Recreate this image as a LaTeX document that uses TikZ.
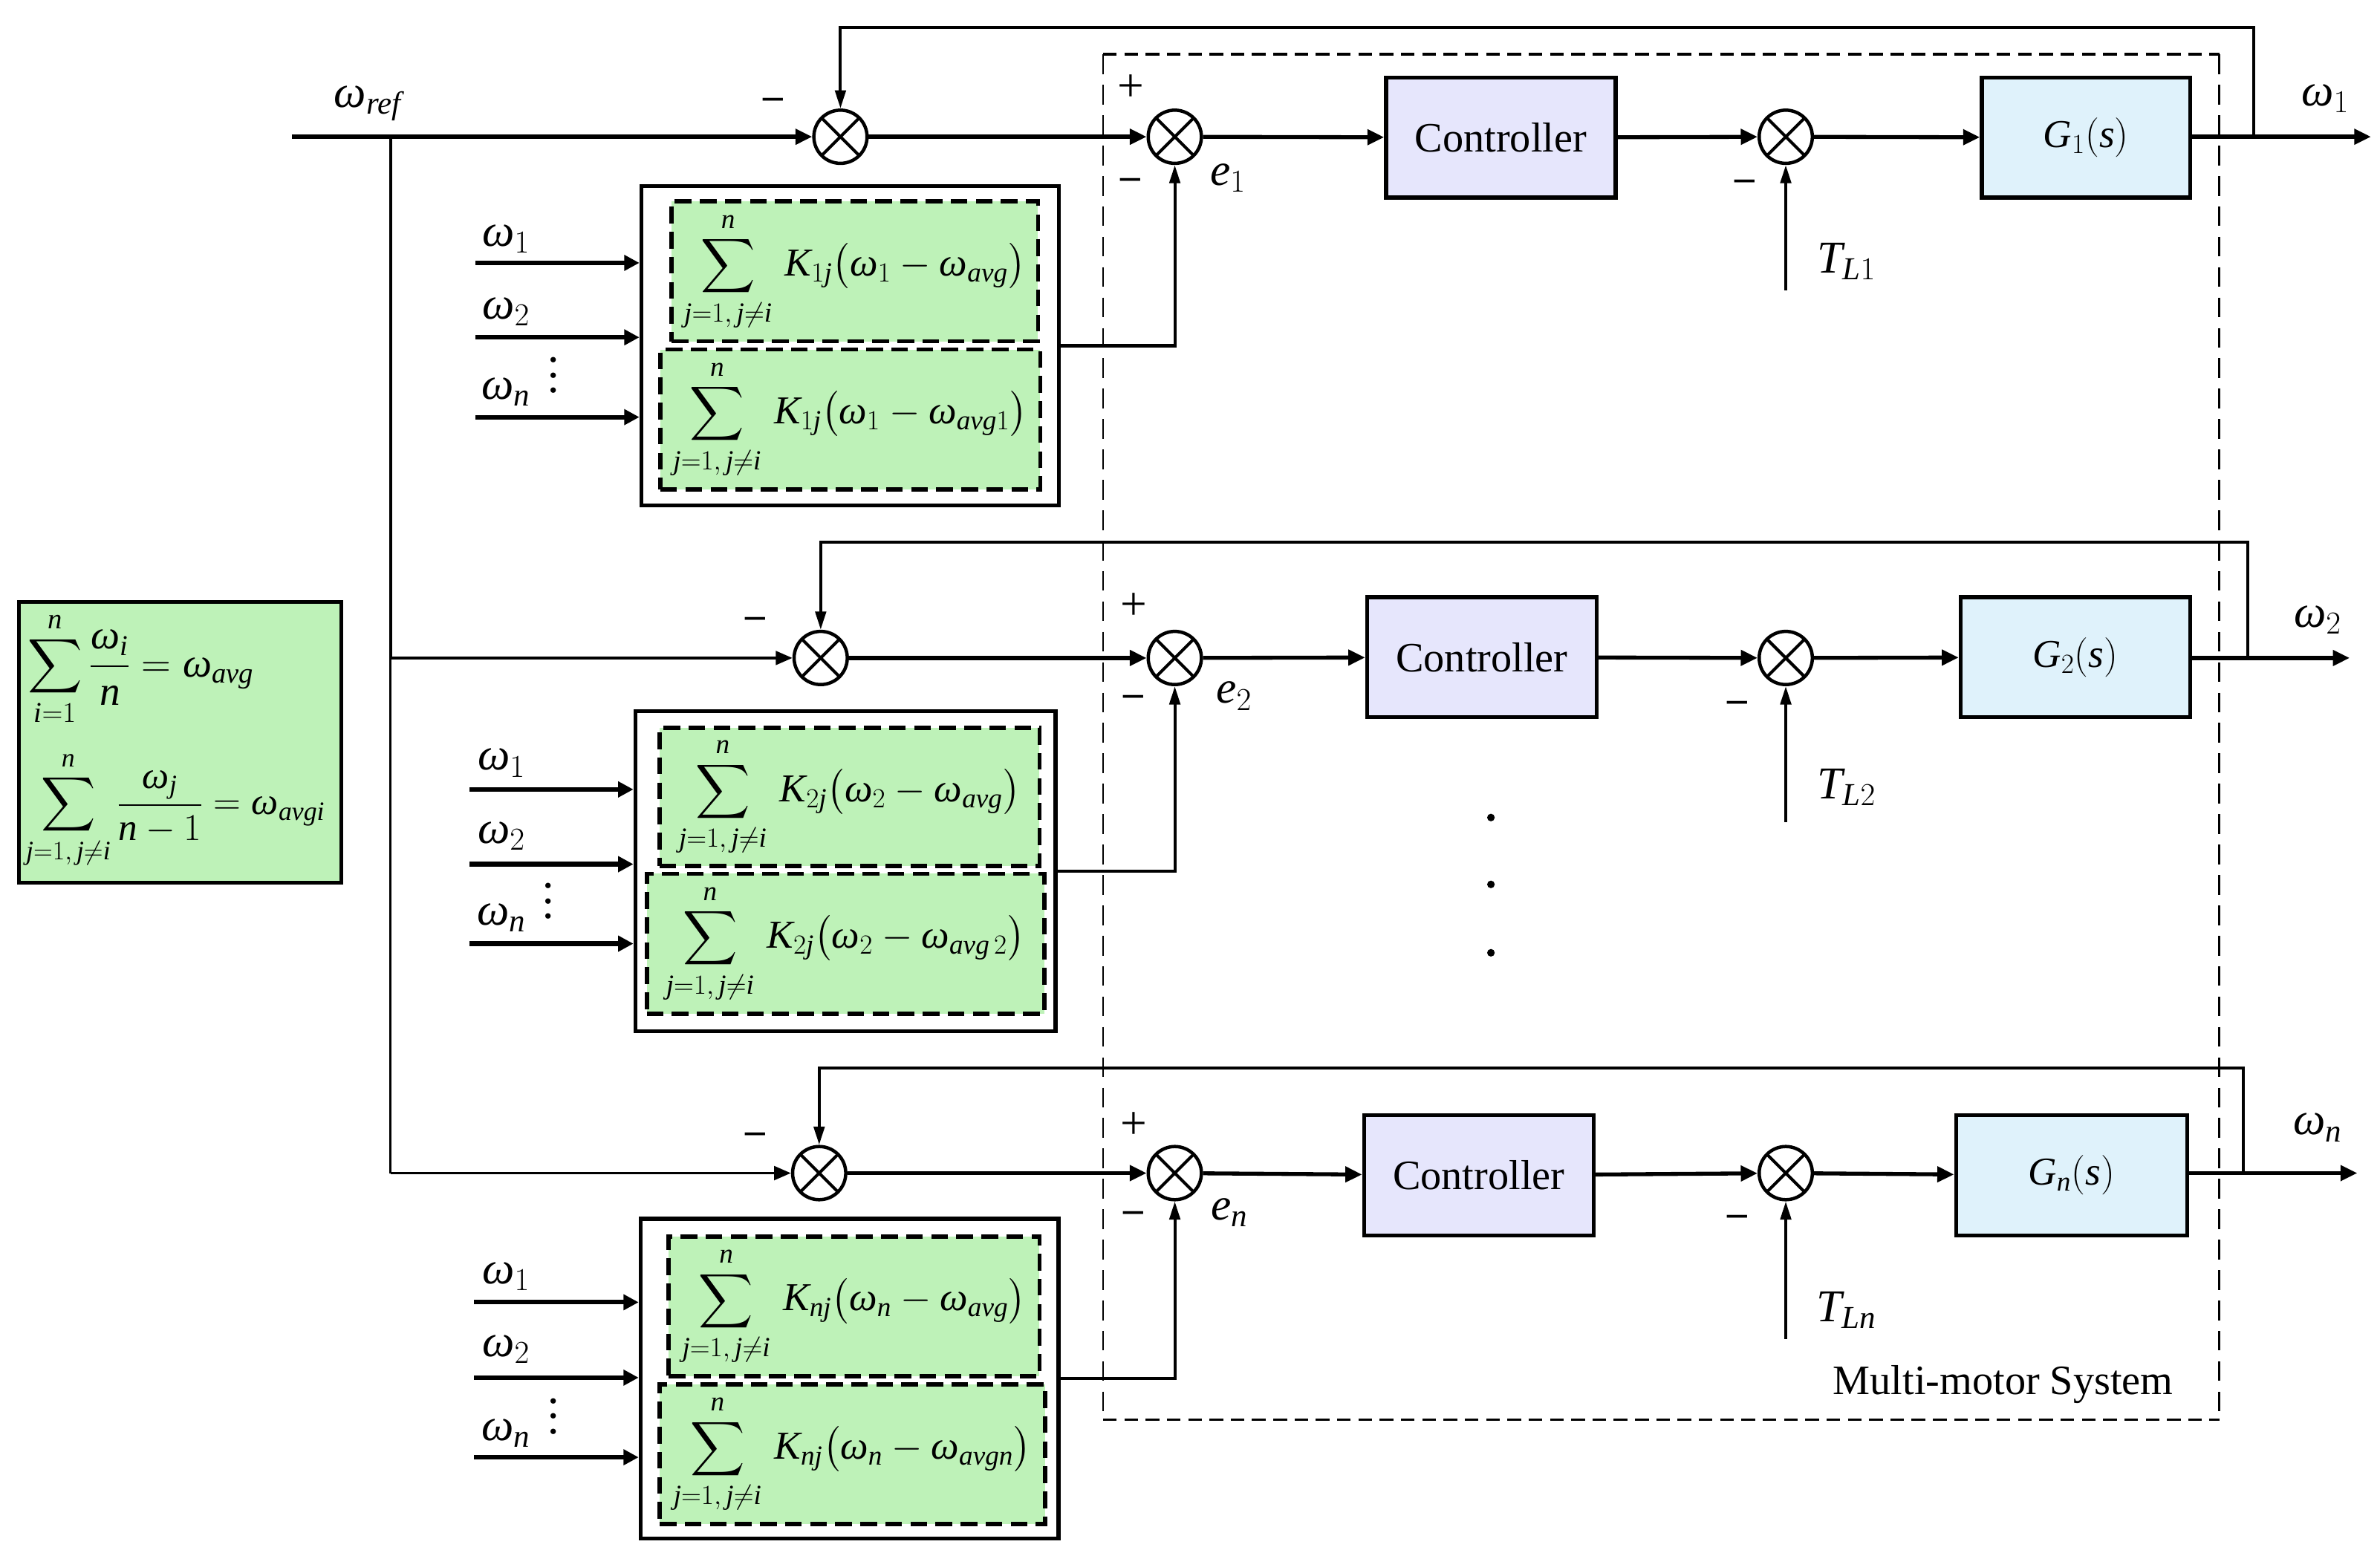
\RequirePackage{fix-cm}
\documentclass[tikz,border=0pt]{standalone}
\usepackage{amsmath}
\usepackage{fontspec}
\setmainfont{Liberation Serif}
\usetikzlibrary{arrows.meta}
\definecolor{grn}{RGB}{190,242,184}
\definecolor{ctrlc}{RGB}{230,230,252}
\definecolor{gc}{RGB}{223,242,251}
\newcommand\ti[1]{\textit{#1}}
\newcommand\om{\textit{ω}}
\newcommand\sumK[3]{$\displaystyle\sum_{\ti{j}=1,\,\ti{j}\neq \ti{i}}^{\ti{n}}\,\ti{K}_{#1\ti{j}}\bigl(\om_{#2}-\om_{#3}\bigr)$}
\begin{document}
\begin{tikzpicture}[x=1pt,y=-1pt,
  mainarr/.style={line width=2.6pt,-{Triangle[length=11pt,width=10pt]}},
  brarr/.style={line width=1.8pt,-{Triangle[length=11pt,width=9pt]}},
  brln/.style={line width=1.6pt},
  fbarr/.style={line width=2pt,-{Triangle[length=12pt,width=7pt]}},
  inparr/.style={line width=3pt,-{Triangle[length=10pt,width=10pt]}},
  sumj/.style={circle,draw,line width=2.2pt,minimum size=35pt,inner sep=0pt,fill=white,
    path picture={\draw[line width=2pt] (path picture bounding box.south west) -- (path picture bounding box.north east)
      (path picture bounding box.north west) -- (path picture bounding box.south east);}},
  ctrl/.style={draw,line width=2.6pt,fill=ctrlc,minimum width=151pt,minimum height=79pt,inner sep=0pt,font=\fontsize{27.5}{30}\selectfont},
  gbox/.style={draw,line width=2.6pt,fill=gc,minimum height=79pt,inner sep=0pt,font=\fontsize{26}{30}\selectfont},
  outerbox/.style={draw,line width=2.6pt,fill=white,inner sep=0pt},
  innerbox/.style={draw,line width=2.8pt,dash pattern=on 11pt off 5.5pt,fill=grn,inner sep=0pt,font=\fontsize{26}{30}\selectfont},
  lbl/.style={font=\fontsize{30}{34}\selectfont,inner sep=0pt},
  sgn/.style={font=\fontsize{26}{30}\selectfont,inner sep=0pt},
  plus/.style={font=\fontsize{31}{34}\selectfont,inner sep=0pt},
  vdt/.style={font=\fontsize{30}{10}\selectfont,inner sep=0pt,align=center},
  hdash/.style={line width=1.8pt,dash pattern=on 9pt off 5pt},
  vdash/.style={line width=1.3pt,dash pattern=on 13pt off 7pt},
  dotn/.style={circle,fill=black,inner sep=0pt,minimum size=5pt},
]
\useasboundingbox (0,0) rectangle (1566,1022);

% ---------- multi-motor dashed frame ----------
\node[minimum width=734pt,minimum height=898pt,inner sep=0pt] (mms) at (1093,485) {};
\draw[hdash] (mms.north west) -- (mms.north east);
\draw[hdash] (mms.south west) -- (mms.south east);
\draw[vdash] (mms.north west) -- (mms.south west);
\draw[vdash] (mms.north east) -- (mms.south east);
\node[font=\fontsize{27.5}{30}\selectfont,inner sep=0pt] (mmslbl) at (1318,911) {Multi-motor System};

% ---------- row 1 ----------
\node[sumj] (sA1) at (553,90) {};
\node[sumj] (sB1) at (773,90) {};
\node[ctrl] (c1) at (987.5,90.5) {Controller};
\node[sumj] (sC1) at (1175,90) {};
\node[gbox,minimum width=137pt] (g1) at (1372.5,90.5) {$\ti{G}_1(\ti{s})$};

% ---------- row 2 ----------
\node[sumj] (sA2) at (540,433) {};
\node[sumj] (sB2) at (773,433) {};
\node[ctrl] (c2) at (975,432.5) {Controller};
\node[sumj] (sC2) at (1175,433) {};
\node[gbox,minimum width=151pt] (g2) at (1365.5,432.5) {$\ti{G}_2(\ti{s})$};

% ---------- row n ----------
\node[sumj] (sA3) at (539,772) {};
\node[sumj] (sB3) at (773,772) {};
\node[ctrl] (c3) at (973,773.5) {Controller};
\node[sumj] (sC3) at (1175,772) {};
\node[gbox,minimum width=152pt] (g3) at (1363,773.5) {$\ti{G}_{\ti{n}}(\ti{s})$};

% ---------- reference input and branches ----------
\coordinate (ref) at (192,90);
\coordinate (b0) at (257,90);
\coordinate (b3) at (257,772);
\draw[mainarr] (ref) -- (sA1.west);
\draw[brln] (b0) -- (b3);
\draw[brarr] (b0) |- (sA2.west);
\draw[brarr] (b3) -- (sA3.west);
\node[lbl] (wref) at (242,68) {$\om_{\ti{ref}}$};

% ---------- forward paths ----------
\foreach \r in {1,2,3}{
  \draw[mainarr] (sA\r) -- (sB\r);
  \draw[mainarr] (sB\r) -- (c\r);
  \draw[mainarr] (c\r) -- (sC\r);
  \draw[mainarr] (sC\r) -- (g\r);
}

% ---------- outputs and feedback ----------
\coordinate (o1) at (1560,90);
\coordinate (f1) at (1483,90);
\coordinate (t1) at (1483,18);
\draw[mainarr] (g1.east |- o1) -- (o1);
\draw[fbarr] (f1) -- (t1) -| (sA1.north);
\node[lbl] (w1out) at (1530,65) {$\om_1$};

\coordinate (o2) at (1546,433);
\coordinate (f2) at (1479,433);
\coordinate (t2) at (1479,357);
\draw[mainarr] (g2.east |- o2) -- (o2);
\draw[fbarr] (f2) -- (t2) -| (sA2.north);
\node[lbl] (w2out) at (1525,408) {$\om_2$};

\coordinate (o3) at (1551,772);
\coordinate (f3) at (1476,772);
\coordinate (t3) at (1476,703);
\draw[mainarr] (g3.east |- o3) -- (o3);
\draw[fbarr] (f3) -- (t3) -| (sA3.north);
\node[lbl] (w3out) at (1525,742) {$\om_{\ti{n}}$};

% ---------- load torques ----------
\coordinate (d1) at (1175,191);
\coordinate (d2) at (1175,541);
\coordinate (d3) at (1175,881);
\draw[fbarr] (d1) -- (sC1.south);
\draw[fbarr] (d2) -- (sC2.south);
\draw[fbarr] (d3) -- (sC3.south);
\node[lbl] (tl1) at (1215,172) {$\ti{T}_{\ti{L}1}$};
\node[lbl] (tl2) at (1215,518) {$\ti{T}_{\ti{L}2}$};
\node[lbl] (tl3) at (1215,862) {$\ti{T}_{\ti{Ln}}$};

% ---------- signs and error labels ----------
\node[sgn] (m1a) at (509,68) {\textbf{–}};
\node[plus] (p1b) at (744,58) {+};
\node[sgn] (m1b) at (744,121) {\textbf{–}};
\node[sgn] (m1c) at (1148,122) {\textbf{–}};
\node[lbl] (e1) at (808,117) {$\ti{e}_1$};

\node[sgn] (m2a) at (497,410) {\textbf{–}};
\node[plus] (p2b) at (746,399) {+};
\node[sgn] (m2b) at (746,461) {\textbf{–}};
\node[sgn] (m2c) at (1143,465) {\textbf{–}};
\node[lbl] (e2) at (812,458) {$\ti{e}_2$};

\node[sgn] (m3a) at (497,749) {\textbf{–}};
\node[plus] (p3b) at (746,741) {+};
\node[sgn] (m3b) at (746,801) {\textbf{–}};
\node[sgn] (m3c) at (1143,803) {\textbf{–}};
\node[lbl] (e3) at (809,798) {$\ti{e}_{\ti{n}}$};

% ---------- continuation dots ----------
\node[dotn] (dt1) at (981,538) {};
\node[dotn] (dt2) at (981,582) {};
\node[dotn] (dt3) at (981,627) {};

% ---------- coupling blocks, row 1 ----------
\node[outerbox,minimum width=274.6pt,minimum height=210pt] (O1) at (559.3,227.5) {};
\node[innerbox,minimum width=241pt,minimum height=92pt] (I1a) at (562.5,178.6) {\sumK{1}{1}{\ti{avg}}};
\node[innerbox,minimum width=250pt,minimum height=92pt] (I1b) at (559.5,276) {\sumK{1}{1}{\ti{avg}1}};
\draw[fbarr] (O1.east) -| (sB1.south);
\coordinate (i11) at (313,173);
\coordinate (i12) at (313,222);
\coordinate (i13) at (313,274.5);
\draw[inparr] (i11) -- (i11 -| O1.west);
\draw[inparr] (i12) -- (i12 -| O1.west);
\draw[inparr] (i13) -- (i13 -| O1.west);
\node[lbl] (l11) at (333,157) {$\om_1$};
\node[lbl] (l12) at (333,205) {$\om_2$};
\node[lbl] (l13) at (333,258) {$\om_{\ti{n}}$};
\node[vdt] (v1) at (364,247) {.\\.\\.};

% ---------- coupling blocks, row 2 ----------
\node[outerbox,minimum width=276.5pt,minimum height=210.7pt] (O2) at (556.3,573.4) {};
\node[innerbox,minimum width=250pt,minimum height=91pt] (I2a) at (559,524.5) {\sumK{2}{2}{\ti{avg}}};
\node[innerbox,minimum width=261.5pt,minimum height=92pt] (I2b) at (556.3,621) {\sumK{2}{2}{\ti{avg}\,2}};
\draw[fbarr] (O2.east) -| (sB2.south);
\coordinate (i21) at (309,519.5);
\coordinate (i22) at (309,568.7);
\coordinate (i23) at (309,621);
\draw[inparr] (i21) -- (i21 -| O2.west);
\draw[inparr] (i22) -- (i22 -| O2.west);
\draw[inparr] (i23) -- (i23 -| O2.west);
\node[lbl] (l21) at (330,502) {$\om_1$};
\node[lbl] (l22) at (330,550) {$\om_2$};
\node[lbl] (l23) at (330,604) {$\om_{\ti{n}}$};
\node[vdt] (v2) at (361,593) {.\\.\\.};

% ---------- coupling blocks, row n ----------
\node[outerbox,minimum width=275pt,minimum height=210.5pt] (O3) at (559,907.3) {};
\node[innerbox,minimum width=244pt,minimum height=91.7pt] (I3a) at (562,859.7) {\sumK{\ti{n}}{\ti{n}}{\ti{avg}}};
\node[innerbox,minimum width=253.5pt,minimum height=92pt] (I3b) at (560.8,957) {\sumK{\ti{n}}{\ti{n}}{\ti{avgn}}};
\draw[fbarr] (O3.east) -| (sB3.south);
\coordinate (i31) at (312,857);
\coordinate (i32) at (312,906.6);
\coordinate (i33) at (312,959);
\draw[inparr] (i31) -- (i31 -| O3.west);
\draw[inparr] (i32) -- (i32 -| O3.west);
\draw[inparr] (i33) -- (i33 -| O3.west);
\node[lbl] (l31) at (333,840) {$\om_1$};
\node[lbl] (l32) at (333,888) {$\om_2$};
\node[lbl] (l33) at (333,943) {$\om_{\ti{n}}$};
\node[vdt] (v3) at (364,932) {.\\.\\.};

% ---------- definitions box ----------
\node[draw,line width=2.6pt,fill=grn,minimum width=212pt,minimum height=184.7pt,inner sep=0pt] (defs) at (118.5,488.4) {};
\node[font=\fontsize{27}{30}\selectfont,inner sep=0pt,anchor=west] (def1) at (18,440)
  {$\displaystyle\sum_{\ti{i}=1}^{\ti{n}}\frac{\om_{\ti{i}}}{\ti{n}}=\om_{\ti{avg}}$};
\node[font=\fontsize{25}{28}\selectfont,inner sep=0pt,anchor=west] (def2) at (17,533)
  {$\displaystyle\sum_{\ti{j}=1,\,\ti{j}\neq\ti{i}}^{\ti{n}}\frac{\om_{\ti{j}}}{\ti{n}-1}=\om_{\ti{avgi}}$};
\end{tikzpicture}
\end{document}
